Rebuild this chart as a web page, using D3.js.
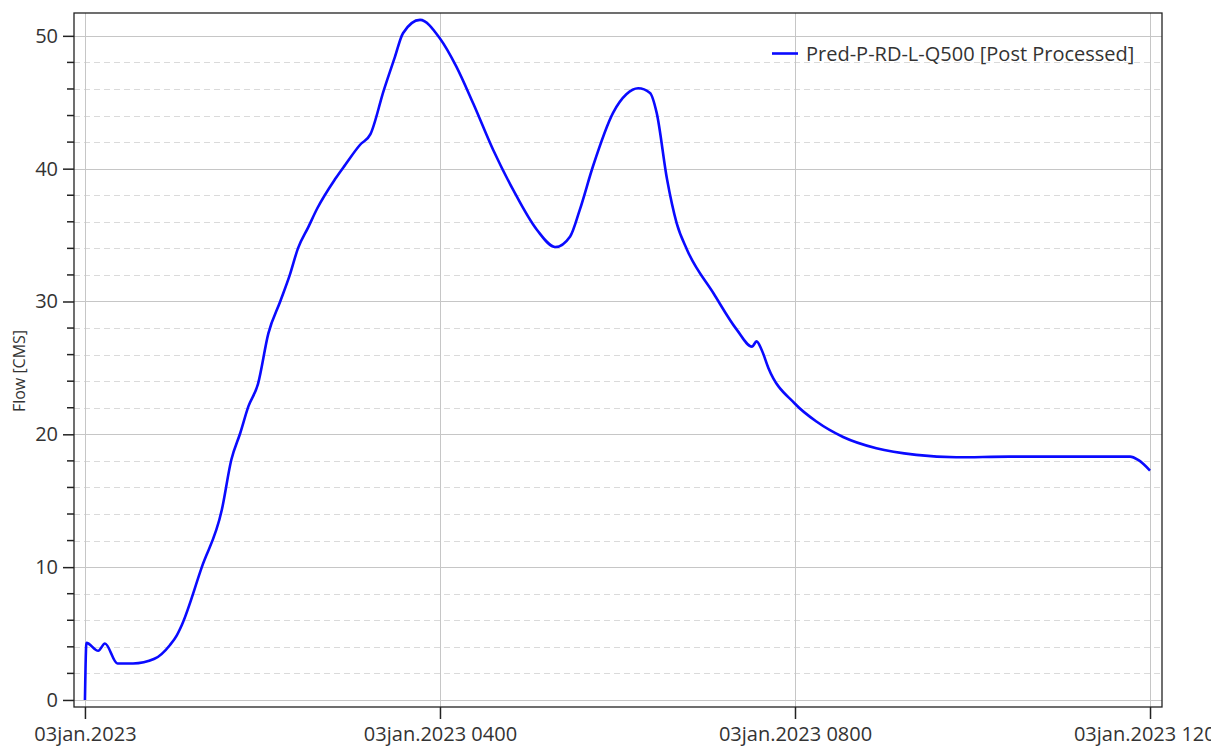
<!DOCTYPE html>
<meta charset="utf-8">
<style>
body { margin: 0; background: #fff; }
text { font-family: "Open Sans", sans-serif; fill: #333; }
.grid-major line { stroke: #c6c6c6; stroke-width: 1px; }
.grid-minor line { stroke: #dadada; stroke-width: 1px; stroke-dasharray: 6,4; }
.axis path, .axis line { stroke: #222; }
</style>
<svg width="1211" height="751"></svg>
<script src="https://d3js.org/d3.v7.min.js"></script>
<script>

// minutes after 03jan.2023 0000
var minutes = [0, 1, 9, 13.5, 22, 32.5, 47, 57.5, 62, 65.5, 79, 92.5, 99, 105, 110.5, 117, 124, 132, 138.5, 144, 151, 157, 169, 176, 186, 193, 202, 209.5, 215, 226.5, 240, 251, 262.5, 276, 289.5, 305.5, 318, 328, 334.5, 343.5, 357, 366, 374, 382, 386.5, 393.5, 400, 407, 425, 440.5, 451, 454, 457.5, 462, 480, 494.5, 512.5, 535, 562, 589, 625, 706.5, 712, 720];
var flow = [0, 4.3, 3.7, 4.25, 2.75, 2.75, 3.1, 4.14, 4.85, 5.65, 10.0, 14.3, 18.1, 20.1, 22.1, 23.8, 27.6, 30.0, 32.0, 34.0, 35.6, 37.0, 39.2, 40.3, 41.8, 42.6, 45.9, 48.4, 50.2, 51.2, 49.8, 47.7, 44.9, 41.4, 38.4, 35.4, 34.1, 34.9, 36.9, 40.2, 44.2, 45.6, 46.05, 45.7, 44.2, 39.2, 35.9, 33.9, 30.6, 27.9, 26.6, 27.0, 26.35, 25.0, 22.3, 20.96, 19.8, 18.95, 18.45, 18.27, 18.32, 18.32, 18.07, 17.27];

var seriesName = "Pred-P-RD-L-Q500 [Post Processed]";
var yMajor = [0, 10, 20, 30, 40, 50];
var yMinor = [2, 4, 6, 8, 12, 14, 16, 18, 22, 24, 26, 28, 32, 34, 36, 38, 42, 44, 46, 48];
var xTickHours = [0, 4, 8, 12];

var t0 = new Date(2023, 0, 3, 0, 0);
function atMin(m) { return new Date(t0.getTime() + m * 60000); }

var data = minutes.map(function(m, i) { return { t: atMin(m), v: flow[i] }; });

var svg = d3.select("svg"),
    pLeft = 74, pRight = 1162, pTop = 13, pBottom = 707;

var x = d3.scaleTime()
    .domain([atMin(-7.4), atMin(728.1)])
    .range([pLeft, pRight]);

var y = d3.scaleLinear()
    .domain([-0.53, 51.72])
    .range([pBottom, pTop]);

var xTicks = xTickHours.map(function(h) { return atMin(h * 60); });

var dayFmt = d3.timeFormat("%d%b.%Y"),
    hourFmt = d3.timeFormat(" %H%M");
function fmtTick(d) {
  var s = dayFmt(d).toLowerCase();
  return d.getHours() === 0 ? s : s + hourFmt(d);
}

// grid
svg.append("g").attr("class", "grid-minor")
  .selectAll("line").data(yMinor)
  .enter().append("line")
    .attr("x1", pLeft).attr("x2", pRight)
    .attr("y1", function(d) { return Math.round(y(d)) + 0.5; })
    .attr("y2", function(d) { return Math.round(y(d)) + 0.5; });

var gm = svg.append("g").attr("class", "grid-major");
gm.selectAll(".h").data(yMajor).enter().append("line")
    .attr("x1", pLeft).attr("x2", pRight)
    .attr("y1", function(d) { return Math.round(y(d)) + 0.5; })
    .attr("y2", function(d) { return Math.round(y(d)) + 0.5; });
gm.selectAll(".v").data(xTicks).enter().append("line")
    .attr("y1", pTop).attr("y2", pBottom)
    .attr("x1", function(d) { return Math.round(x(d)) + 0.5; })
    .attr("x2", function(d) { return Math.round(x(d)) + 0.5; });

// line
var line = d3.line()
    .x(function(d) { return x(d.t); })
    .y(function(d) { return y(d.v); })
    .curve(d3.curveMonotoneX);

svg.append("path")
    .datum(data)
    .attr("fill", "none")
    .attr("stroke", "#0a0aff")
    .attr("stroke-width", 2.6)
    .attr("stroke-linejoin", "round")
    .attr("d", line);

// frame
svg.append("rect")
    .attr("x", pLeft).attr("y", pTop)
    .attr("width", pRight - pLeft).attr("height", pBottom - pTop)
    .attr("fill", "none")
    .attr("stroke", "#222")
    .attr("stroke-width", 1.3);

// y axis
var yAxis = svg.append("g").attr("class", "axis")
    .attr("transform", "translate(" + pLeft + ",0)")
    .call(d3.axisLeft(y).tickValues(yMajor).tickSize(11).tickPadding(5).tickFormat(d3.format("d")));
yAxis.select(".domain").remove();
yAxis.selectAll("text").style("font-size", "20px").attr("fill", "#333");
yAxis.selectAll("line").attr("stroke-width", 1.5);

svg.append("g").attr("class", "axis")
  .selectAll("line").data(yMinor)
  .enter().append("line")
    .attr("x1", pLeft - 7).attr("x2", pLeft)
    .attr("y1", function(d) { return y(d); })
    .attr("y2", function(d) { return y(d); })
    .attr("stroke-width", 1.5);

// x axis
var xAxis = svg.append("g").attr("class", "axis")
    .attr("transform", "translate(0," + pBottom + ")")
    .call(d3.axisBottom(x).tickValues(xTicks).tickSize(12).tickPadding(8).tickFormat(fmtTick));
xAxis.select(".domain").remove();
xAxis.selectAll("text").style("font-size", "20px").attr("fill", "#333");
xAxis.selectAll("line").attr("stroke-width", 1.5);

// y label
svg.append("text")
    .attr("transform", "translate(25,371) rotate(-90)")
    .attr("text-anchor", "middle")
    .style("font-size", "16px")
    .text("Flow [CMS]");

// legend
svg.append("line")
    .attr("x1", 772).attr("x2", 798)
    .attr("y1", 53.5).attr("y2", 53.5)
    .attr("stroke", "#0a0aff").attr("stroke-width", 2.6);
svg.append("text")
    .attr("x", 806).attr("y", 61)
    .style("font-size", "20px")
    .text(seriesName);

</script>
